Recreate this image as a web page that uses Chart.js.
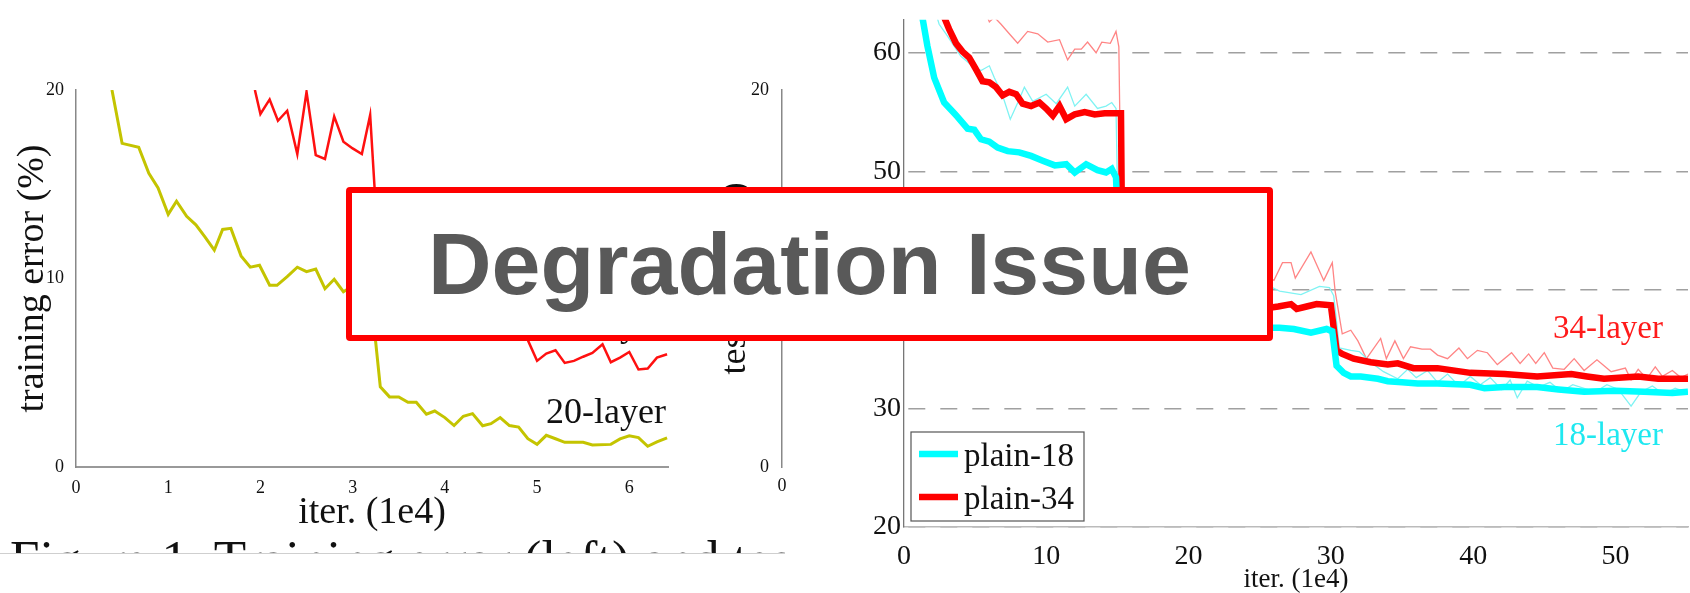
<!DOCTYPE html>
<html>
<head>
<meta charset="utf-8">
<script src="https://cdn.jsdelivr.net/npm/chart.js@4.4.1/dist/chart.umd.min.js"></script>
<style>
  html, body { margin: 0; padding: 0; background: #fff; }
  body { width: 1690px; height: 593px; position: relative; overflow: hidden; }
  canvas { position: absolute; top: 0; }
  #left { left: 0; }
  #mid { left: 690px; }
  #right { left: 785px; }
  #rule { position: absolute; left: 0; top: 553px; width: 785px; height: 1px; background: #cfcfcf; }
  #caption { position: absolute; left: 0; top: 540px; width: 785px; height: 13px; overflow: hidden; }
  #caption span { position: absolute; left: 10px; top: -7px; font: 53px/53px 'Liberation Serif', serif; color: #111; white-space: nowrap; }
  #banner { position: absolute; left: 346px; top: 187px; width: 927px; height: 154px; box-sizing: border-box;
            border: 6.5px solid #ff0000; border-radius: 4px; background: #fff; }
  #banner span { position: absolute; left: 0; right: 0; top: 27px; text-align: center; white-space: nowrap;
                 font: bold 88px/88px 'Liberation Sans', Arial, sans-serif; color: #595959; }
</style>
</head>
<body>
<canvas id="left" width="785" height="553"></canvas>
<canvas id="mid" width="96" height="553"></canvas>
<canvas id="right" width="905" height="593"></canvas>
<div id="rule"></div>
<div id="caption"><span>Figure 1. Training error (left) and test error (right) on CIFAR-10</span></div>
<div id="banner"><span>Degradation Issue</span></div>
<script>
// left panel: training error on CIFAR-10
const iter20 = [0.39,0.5,0.68,0.79,0.89,1.0,1.09,1.2,1.3,1.4,1.5,1.59,1.68,1.79,1.89,1.99,2.1,2.18,2.29,2.4,
  2.5,2.6,2.7,2.8,2.9,3.0,3.1,3.2,3.3,3.4,3.5,3.6,3.69,3.8,3.89,4.0,4.1,4.2,4.3,4.41,
  4.5,4.6,4.7,4.8,4.9,5.0,5.1,5.2,5.3,5.5,5.6,5.8,5.9,6.0,6.1,6.2,6.3,6.41];
const err20 = [20,17.17,16.96,15.58,14.8,13.4,14.1,13.3,12.85,12.2,11.5,12.6,12.66,11.2,10.6,10.7,9.64,9.64,10.1,10.6,
  10.36,10.5,9.46,9.96,9.3,9.6,9.2,9.0,4.25,3.72,3.72,3.43,3.43,2.8,2.97,2.62,2.2,2.69,2.83,2.19,
  2.3,2.62,2.2,2.12,1.5,1.2,1.68,1.5,1.31,1.31,1.17,1.2,1.49,1.65,1.56,1.1,1.33,1.54];
const iter56 = [1.94,2.0,2.1,2.19,2.29,2.4,2.5,2.6,2.7,2.8,2.9,3.0,3.1,3.19,3.3,3.4,3.5,3.6,3.7,3.8,
  3.9,4.0,4.1,4.2,4.3,4.4,4.5,4.6,4.7,4.8,4.9,5.0,5.1,5.2,5.3,5.4,5.5,5.6,5.71,5.8,5.9,6.0,6.1,6.2,6.3,6.41];
const err56 = [20,18.73,19.5,18.37,18.9,16.6,19.9,16.55,16.34,18.6,17.26,16.9,16.6,18.67,9.8,9.3,9.1,8.9,8.6,8.7,
  8.3,8.2,8.3,7.9,7.8,7.9,7.5,7.6,7.3,7.1,6.73,5.63,6.02,6.19,5.52,5.63,5.85,6.05,6.51,5.56,5.8,6.1,5.17,5.22,5.8,5.98];
const trainXTicks = [0, 1, 2, 3, 4, 5, 6];
const trainYTicks = [0, 10, 20];

// middle panel (only its axis shows)
const midXTicks = [0];
const midYTicks = [0, 20];

// right panel: ImageNet plain-18 / plain-34
const p18TestIter = [1.0,1.29,1.64,2.12,2.82,3.53,3.76,4.47,4.94,5.41,6.0,6.58,7.29,8.1,8.93,9.75,10.6,11.4,12.0,12.8,
  13.6,14.2,14.6,14.9,15.2,16,17,18,19,20,21,22,23,24,25,25.7,26.4,27.4,28.6,29.7,
  30.1,30.4,30.9,31.4,32.1,33.3,34.0,35,36.1,37.5,39.8,40.8,42.2,44.5,46,47.8,50,52,54,55.1];
const p18TestErr = [66,63,60.6,57.9,55.8,54.9,54.6,53.6,53.5,52.7,52.5,52.0,51.7,51.6,51.3,50.9,50.5,50.6,49.9,50.6,
  50.1,49.9,50.2,49.5,40,38.5,38,37.6,37.5,37.3,37.2,37.0,37.0,36.9,36.8,36.8,36.8,36.7,36.4,36.7,
  36.5,33.6,33.0,32.7,32.7,32.5,32.3,32.2,32.1,32.1,32.0,31.7,31.8,31.8,31.6,31.4,31.5,31.4,31.3,31.4];
const p34TestIter = [2.5,2.82,3.17,3.65,4.11,4.58,5.06,5.52,6.0,6.47,6.93,7.4,7.88,8.34,8.93,9.52,9.99,10.46,10.93,11.4,
  12.0,12.7,13.4,14.1,14.9,15.25,15.35,16,17,18,19,20,21,22,23,24,25,25.7,26.3,27.2,
  27.6,28.3,29.0,30.0,30.4,30.8,31.6,32.8,34.0,34.7,35.8,37.5,39.8,42.2,44.5,46.9,48,49.2,50.5,51.6,53,53.9,55.1];
const p34TestErr = [66,63,62,60.8,60.1,59.6,58.6,57.6,57.5,57.1,56.4,56.7,56.5,55.7,55.5,55.8,55.3,54.7,55.5,54.4,
  54.8,55.0,54.8,54.9,54.9,54.9,41,40.5,40,39.6,39.4,39.2,39.0,38.9,38.8,38.7,38.6,38.5,38.6,38.8,
  38.4,38.6,38.8,38.7,34.9,34.6,34.2,33.9,33.7,33.8,33.4,33.4,33.0,32.9,32.7,32.9,32.7,32.5,32.6,32.7,32.5,32.5,32.5];
const p18TrainIter = [2.2,2.47,3.0,3.5,4.0,4.7,5.41,6.0,6.35,6.93,7.47,8.0,8.46,9.05,9.99,10.7,11.5,12.0,12.8,13.6,
  14.2,14.6,14.9,15.1,16,17,18,19,20,21,22,23,24,25,25.7,26.4,27.9,29.2,29.9,30.2,
  30.6,31.4,32.0,32.8,33.7,34.7,35.4,36.0,36.8,37.5,38.2,39.0,39.8,40.5,41.2,42.0,42.6,43.1,43.8,44.6,
  45.4,46.2,47.0,47.8,48.6,49.4,50.2,51.1,51.8,52.6,53.4,54.2,55.1];
const p18TrainErr = [63.5,62.4,61.5,60.6,59.7,59.0,58.5,58.9,57.9,56.4,54.4,55.8,57.1,55.9,56.5,55.7,57.1,55.5,56.5,55.3,
  55.5,55.8,55.3,42,41.5,41.8,40.9,41.3,40.7,41.0,40.5,40.8,40.3,40.6,40.3,39.9,39.6,40.3,40.2,39.5,
  35.1,34.9,34.8,33.9,33.1,32.5,33.3,32.6,33.2,32.2,32.9,31.9,32.7,32.0,32.6,31.6,32.4,30.9,32.3,31.8,
  32.2,31.4,32.0,31.7,31.4,32.0,31.6,30.2,31.4,31.9,31.2,31.7,31.3];
const p34TrainIter = [5.7,6.0,6.35,6.82,7.4,7.99,8.69,9.4,10.1,10.93,11.5,12.0,12.46,12.9,13.5,13.9,14.5,14.9,15.1,15.3,
  16,17,18,19,20,21,22,23,24,25,26.0,26.6,27.2,27.5,28.6,29.5,30.1,30.3,30.8,31.4,
  31.9,32.5,33.5,33.9,34.5,35.1,35.6,36.4,37.0,37.5,38.2,39.0,39.6,40.3,41.0,41.7,42.7,43.3,43.9,44.4,
  45.0,45.6,46.4,47.1,47.8,48.7,49.2,49.7,50.7,51.1,51.6,52.2,52.8,53.3,54,54.6,55.1];
const p34TrainErr = [63.5,62.6,63.0,62.4,61.6,60.8,61.8,61.6,60.9,61.1,59.4,60.3,60.3,60.9,60.0,60.9,60.8,61.8,60.5,43,
  42.5,42.0,43.0,41.8,42.6,41.5,42.2,41.2,42.0,41.5,40.8,42.3,42.3,41.0,43.2,40.8,42.3,39.9,36.3,36.6,
  35.7,34.2,35.9,34.2,35.7,34.2,35.2,35.0,35.0,34.5,34.2,35.1,34.2,34.9,34.7,33.7,34.7,33.8,34.6,33.8,
  34.7,33.4,33.3,34.2,33.2,34.1,33.6,33.1,33.4,32.4,33.3,32.5,33.5,32.7,33.2,32.6,32.9];
const rightXTicks = [0, 10, 20, 30, 40, 50];
const rightYTicks = [20, 30, 40, 50, 60];

const pts = (xs, ys) => xs.map((x, i) => ({ x: x, y: ys[i] }));
const fixTicks = list => scale => { scale.ticks = list.map(v => ({ value: v })); };

Chart.defaults.font.family = "'Liberation Serif', 'DejaVu Serif', serif";
Chart.defaults.color = '#111';

// text written straight onto a chart (curve names)
const notes = {
  id: 'notes',
  afterDatasetsDraw(chart, args, opts) {
    const ctx = chart.ctx;
    ctx.save();
    ctx.textBaseline = 'alphabetic';
    ctx.textAlign = 'right';
    (opts.items || []).forEach(n => {
      ctx.font = n.font;
      ctx.fillStyle = n.color;
      ctx.fillText(n.text, n.x, n.y);
    });
    ctx.restore();
  }
};

// boxed legend in the lower left corner of the right panel
const boxLegend = {
  id: 'boxLegend',
  afterDatasetsDraw(chart, args, o) {
    if (!o.show) return;
    const ctx = chart.ctx;
    ctx.save();
    ctx.fillStyle = '#fff';
    ctx.fillRect(o.x, o.y, o.w, o.h);
    ctx.strokeStyle = '#555';
    ctx.lineWidth = 1.2;
    ctx.strokeRect(o.x, o.y, o.w, o.h);
    ctx.font = "33px 'Liberation Serif'";
    ctx.textBaseline = 'alphabetic';
    chart.data.datasets.slice(0, 2).forEach((ds, i) => {
      const y = o.y + 22 + i * 43;
      ctx.strokeStyle = ds.borderColor;
      ctx.lineWidth = ds.borderWidth;
      ctx.beginPath();
      ctx.moveTo(o.x + 8, y);
      ctx.lineTo(o.x + 47, y);
      ctx.stroke();
      ctx.fillStyle = '#111';
      ctx.fillText(ds.label, o.x + 53, y + 12);
    });
    ctx.restore();
  }
};

const base = {
  responsive: false,
  animation: false,
  elements: { point: { radius: 0 }, line: { tension: 0 } },
  plugins: { legend: { display: false }, tooltip: { enabled: false } }
};

new Chart(document.getElementById('left'), {
  type: 'line',
  data: {
    datasets: [
      { label: '20-layer', data: pts(iter20, err20), borderColor: '#c4c400', borderWidth: 3 },
      { label: '56-layer', data: pts(iter56, err56), borderColor: '#ff1010', borderWidth: 2.5 }
    ]
  },
  options: {
    ...base,
    layout: { padding: { left: 0, top: 90, right: 117, bottom: 0 } },
    plugins: {
      ...base.plugins,
      notes: { items: [
        { text: '20-layer', x: 666, y: 423, font: "36px 'Liberation Serif'", color: '#111' },
        { text: '56-layer', x: 666, y: 336, font: "36px 'Liberation Serif'", color: '#111' }
      ] }
    },
    scales: {
      x: {
        type: 'linear', min: 0, max: 6.42,
        afterBuildTicks: fixTicks(trainXTicks),
        afterFit: s => { s.height = 86; },
        grid: { display: false },
        border: { color: '#999', width: 2 },
        ticks: { font: { size: 18 }, padding: 2, maxRotation: 0, autoSkip: false },
        title: { display: true, text: 'iter. (1e4)', font: { size: 38, lineHeight: 1 }, padding: { top: 0, bottom: 21 } }
      },
      y: {
        min: 0, max: 20,
        afterBuildTicks: fixTicks(trainYTicks),
        afterFit: s => { s.width = 76; },
        grid: { display: false },
        border: { color: '#888', width: 1.5 },
        ticks: { font: { size: 18 }, padding: 4 },
        title: { display: true, text: 'training error (%)', font: { size: 38, lineHeight: 1 }, padding: { top: 14, bottom: 0 } }
      }
    }
  },
  plugins: [notes]
});

new Chart(document.getElementById('mid'), {
  type: 'line',
  data: { datasets: [] },
  options: {
    ...base,
    layout: { padding: { left: 0, top: 90, right: 0, bottom: 0 } },
    scales: {
      x: {
        type: 'linear', min: 0, max: 1,
        afterBuildTicks: fixTicks(midXTicks),
        afterFit: s => { s.height = 86; },
        grid: { display: false },
        border: { display: false },
        ticks: { font: { size: 18 }, padding: 0, maxRotation: 0 }
      },
      y: {
        min: 0, max: 20,
        afterBuildTicks: fixTicks(midYTicks),
        afterFit: s => { s.width = 92; },
        grid: { display: false },
        border: { color: '#888', width: 1.5 },
        ticks: { font: { size: 18 }, padding: 5 },
        title: { display: true, text: 'test error (%)', font: { size: 36, lineHeight: 1 }, padding: { top: 28, bottom: 0 } }
      }
    }
  }
});

new Chart(document.getElementById('right'), {
  type: 'line',
  data: {
    datasets: [
      { label: 'plain-18', data: pts(p18TestIter, p18TestErr), borderColor: '#00ffff', borderWidth: 6.5, clip: 0 },
      { label: 'plain-34', data: pts(p34TestIter, p34TestErr), borderColor: '#ff0000', borderWidth: 6.5, clip: 0 },
      { label: 'plain-18 train', data: pts(p18TrainIter, p18TrainErr), borderColor: '#7ff3f3', borderWidth: 1.3, clip: 0 },
      { label: 'plain-34 train', data: pts(p34TrainIter, p34TrainErr), borderColor: '#ff8585', borderWidth: 1.3, clip: 0 }
    ]
  },
  options: {
    ...base,
    layout: { padding: { left: 0, top: 13, right: 2, bottom: 0 } },
    plugins: {
      ...base.plugins,
      notes: { items: [
        { text: '34-layer', x: 878, y: 338, font: "33px 'Liberation Serif'", color: '#ff1a1a' },
        { text: '18-layer', x: 878, y: 445, font: "33px 'Liberation Serif'", color: '#1fe8f0' }
      ] },
      boxLegend: { show: true, x: 126, y: 432, w: 173, h: 89 }
    },
    scales: {
      x: {
        type: 'linear', min: 0, max: 55.1,
        afterBuildTicks: fixTicks(rightXTicks),
        afterFit: s => { s.height = 66; },
        grid: { display: false },
        border: { color: '#bbb', width: 1.5 },
        ticks: { font: { size: 28 }, padding: 5, maxRotation: 0, autoSkip: false },
        title: { display: true, text: 'iter. (1e4)', font: { size: 27, lineHeight: 1 }, padding: { top: 0, bottom: 0 } }
      },
      y: {
        min: 20, max: 62.78,
        afterBuildTicks: fixTicks(rightYTicks),
        afterFit: s => { s.width = 119; },
        grid: { color: '#a0a0a0', lineWidth: 1.5, drawTicks: false },
        border: { color: '#777', width: 1.3, dash: [17, 15], dashOffset: 28 },
        ticks: { font: { size: 28 }, padding: 3 }
      }
    }
  },
  plugins: [notes, boxLegend]
});
</script>
</body>
</html>
